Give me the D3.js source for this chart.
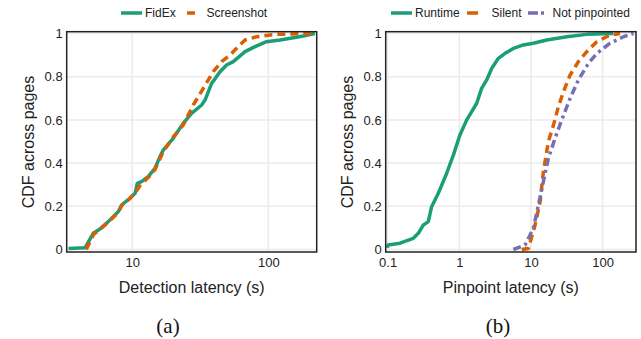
<!DOCTYPE html>
<html><head><meta charset="utf-8">
<script src="https://cdn.jsdelivr.net/npm/d3@7"></script>
<style>body{margin:0;background:#fff}svg{display:block}</style>
</head><body>
<svg id="c" width="641" height="339"></svg>
<script>
// ---- data (a) ----
const fidexX = [3.4,4.5,5.17,5.79,6.67,7.89,8.36,9.61,10.5,10.9,11.7,13.1,14.7,16.0,16.9,20.0,23.7,27.3,32.4,34.3,38.4,40.6,44.2,49.4,55.3,67.5,79.9,97.2,122,153,181,220];
const fidexY = [0.005,0.008,0.075,0.095,0.129,0.175,0.206,0.237,0.26,0.306,0.314,0.337,0.376,0.43,0.46,0.515,0.584,0.63,0.669,0.692,0.77,0.79,0.823,0.854,0.87,0.916,0.939,0.962,0.97,0.98,0.988,1.0];
const shotX = [4.6,5.2,5.8,6.7,7.9,8.4,9.6,10.6,11.5,13.1,14.7,16.0,16.9,20.0,23.7,28.1,33.3,39.4,45.4,52.3,61.9,67.5,82,115,220];
const shotY = [0,0.07,0.093,0.128,0.172,0.205,0.236,0.265,0.3,0.333,0.37,0.42,0.453,0.52,0.576,0.669,0.746,0.823,0.87,0.9,0.947,0.97,0.985,0.996,1.0];
// ---- data (b) ----
const runX = [0.099,0.102,0.149,0.228,0.268,0.314,0.369,0.411,0.509,0.667,0.826,1.02,1.27,1.49,1.75,2.05,2.41,2.84,3.51,4.35,5.68,7.83,10.8,16.6,31.6,60.1,140];
const runY = [0.008,0.021,0.029,0.052,0.075,0.113,0.129,0.198,0.26,0.353,0.437,0.53,0.6,0.638,0.677,0.746,0.785,0.839,0.885,0.908,0.931,0.947,0.955,0.97,0.985,0.996,1.0];
const silentX = [7.43,9.2,11.4,13.4,14.9,17.5,20.6,24.1,28.4,35.2,45.9,60.1,83,127,175];
const silentY = [0,0.005,0.113,0.221,0.36,0.5,0.576,0.661,0.731,0.808,0.87,0.916,0.962,0.993,1.0];
const notpX = [5.68,8.28,10.8,12.7,14.9,17.5,21.7,26.9,35.2,45.9,63.4,83,127,195,269];
const notpY = [0,0.021,0.098,0.206,0.314,0.422,0.515,0.6,0.7,0.785,0.862,0.908,0.955,0.985,1.0];
// ---- ticks / labels ----
const yTicks = [0,0.2,0.4,0.6,0.8,1];
const xTicksA = [10,100];
const xTicksB = [0.1,1,10,100];
const legendA = ["FidEx","Screenshot"];
const legendB = ["Runtime","Silent","Not pinpointed"];

const GREEN="#1b9e77", ORANGE="#d95f02", PURPLE="#7570b3";
const svg = d3.select("#c");
const SANS = "'Liberation Sans', Arial, sans-serif";

function panel(opt){
  const g = svg.append("g");
  const x = d3.scaleLog().domain(opt.xdom).range([opt.left, opt.right]);
  const y = d3.scaleLinear().domain([0,1]).range([249.5, 33.5]);
  // grid
  g.selectAll(".gx").data(opt.xticks).join("line")
    .attr("x1",d=>x(d)).attr("x2",d=>x(d)).attr("y1",31.7).attr("y2",252)
    .attr("stroke","#ebebeb").attr("stroke-width",1.5);
  g.selectAll(".gy").data(yTicks).join("line")
    .attr("x1",opt.left).attr("x2",opt.right).attr("y1",d=>y(d)).attr("y2",d=>y(d))
    .attr("stroke","#ebebeb").attr("stroke-width",1.5);
  // axes (labels only)
  const xa = g.append("g").attr("transform","translate(0,252)")
    .call(d3.axisBottom(x).tickValues(opt.xticks).tickFormat(d=>String(d)).tickSize(0).tickPadding(5));
  xa.select(".domain").remove();
  xa.selectAll("text").attr("font-family",SANS).attr("font-size",13).attr("fill","#222").attr("dy","0.72em").attr("y",6);
  const ya = g.append("g").attr("transform",`translate(${opt.left},0)`)
    .call(d3.axisLeft(y).tickValues(yTicks).tickFormat(d=>String(d)).tickSize(0).tickPadding(4));
  ya.select(".domain").remove();
  ya.selectAll("text").attr("font-family",SANS).attr("font-size",13).attr("fill","#222");
  // curves
  const line = d3.line().x(d=>x(d[0])).y(d=>y(d[1])).curve(d3.curveLinear);
  opt.series.forEach(s=>{
    g.append("path").datum(d3.zip(s.x,s.y)).attr("d",line)
      .attr("fill","none").attr("stroke",s.color).attr("stroke-width",3.5)
      .attr("stroke-dasharray",s.dash||null).attr("stroke-linejoin","round");
  });
  // frame
  g.append("rect").attr("x",opt.left).attr("y",31.7).attr("width",opt.right-opt.left).attr("height",252-31.7)
    .attr("fill","none").attr("stroke","#222").attr("stroke-width",1.5);
  // titles
  g.append("text").attr("x",(opt.left+opt.right)/2).attr("y",293).attr("text-anchor","middle")
    .attr("font-family",SANS).attr("font-size",16).attr("fill","#222").text(opt.xtitle);
  g.append("text").attr("transform",`translate(${opt.left-38},142) rotate(-90)`).attr("text-anchor","middle")
    .attr("dy","0.35em").attr("font-family",SANS).attr("font-size",16).attr("fill","#222").text("CDF across pages");
  g.append("text").attr("x",opt.capx).attr("y",333).attr("text-anchor","middle")
    .attr("font-family","'Liberation Serif','Times New Roman',serif").attr("font-size",21).attr("fill","#111").text(opt.caption);
  // legend
  opt.legend.forEach(l=>{
    g.append("line").attr("x1",l.x1).attr("x2",l.x2).attr("y1",13).attr("y2",13)
      .attr("stroke",l.color).attr("stroke-width",3.5).attr("stroke-dasharray",l.dash||null);
    g.append("text").attr("x",l.tx).attr("y",13).attr("dy","0.35em").attr("font-family",SANS)
      .attr("font-size",12).attr("fill","#222").text(l.label);
  });
}

panel({
  left:66.7, right:316.7, xdom:[3.3,227], xticks:xTicksA, xtitle:"Detection latency (s)",
  caption:"(a)", capx:168,
  series:[
    {x:fidexX,y:fidexY,color:GREEN},
    {x:shotX,y:shotY,color:ORANGE,dash:"8,5"}
  ],
  legend:[
    {x1:121,x2:142,color:GREEN,label:legendA[0],tx:145},
    {x1:187,x2:195,color:ORANGE,label:legendA[1],tx:206.5}
  ]
});
panel({
  left:385.7, right:636, xdom:[0.094,292], xticks:xTicksB, xtitle:"Pinpoint latency (s)",
  caption:"(b)", capx:498,
  series:[
    {x:runX,y:runY,color:GREEN},
    {x:silentX,y:silentY,color:ORANGE,dash:"8,5"},
    {x:notpX,y:notpY,color:PURPLE,dash:"8,4,3,4"}
  ],
  legend:[
    {x1:391,x2:412,color:GREEN,label:legendB[0],tx:415},
    {x1:467,x2:478,color:ORANGE,label:legendB[1],tx:491.5},
    {x1:528,x2:545,color:PURPLE,dash:"10,3,3,10",label:legendB[2],tx:552.5}
  ]
});
</script>
</body></html>
